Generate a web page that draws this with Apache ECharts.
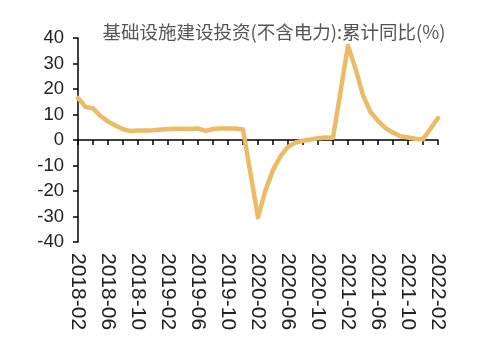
<!DOCTYPE html>
<html>
<head>
<meta charset="utf-8">
<script src="https://cdn.jsdelivr.net/npm/echarts@6/dist/echarts.min.js"></script>
<style>html,body{margin:0;padding:0;background:#fff}#c{width:479px;height:339px}</style>
</head>
<body>
<div id="c"></div>
<script>
const title = '基础设施建设投资(不含电力):累计同比(%)';
const months = [
 '2018-02','2018-03','2018-04','2018-05','2018-06','2018-07','2018-08','2018-09','2018-10','2018-11','2018-12',
 '2019-01','2019-02','2019-03','2019-04','2019-05','2019-06','2019-07','2019-08','2019-09','2019-10','2019-11','2019-12',
 '2020-01','2020-02','2020-03','2020-04','2020-05','2020-06','2020-07','2020-08','2020-09','2020-10','2020-11','2020-12',
 '2021-01','2021-02','2021-03','2021-04','2021-05','2021-06','2021-07','2021-08','2021-09','2021-10','2021-11','2021-12',
 '2022-01','2022-02'];
const values = [
 16.5,13.0,12.4,9.4,7.3,5.7,4.2,3.5,3.7,3.7,3.8,
 null,4.3,4.4,4.4,4.3,4.5,3.6,4.3,4.5,4.5,4.5,4.1,
 null,-30.3,-19.7,-11.8,-6.3,-2.7,-1.0,-0.3,0.2,0.7,1.0,0.9,
 null,37.0,28.0,17.5,11.0,7.5,4.6,2.9,1.5,1.0,0.5,0.3,
 null,8.6];
const yTicks = [-40,-30,-20,-10,0,10,20,30,40];

const chart = echarts.init(document.getElementById('c'));
chart.setOption({
  animation: false,
  title: {
    text: title, left: 269, top: 18, textAlign: 'center',
    textStyle: {fontFamily: 'Noto Sans CJK SC', fontSize: 18.5, fontWeight: 'normal', color: '#555'}
  },
  grid: {left: 78, right: 41, top: 38, bottom: 97},
  xAxis: [{
    type: 'category', data: months, boundaryGap: false, position: 'bottom',
    axisLine: {onZero: true, lineStyle: {color: '#000', width: 1.5}},
    axisTick: {show: true, interval: 1, length: 5, lineStyle: {color: '#000', width: 1.5}},
    axisLabel: {show: false}, splitLine: {show: false}
  }, {
    type: 'category', data: months, boundaryGap: false, position: 'bottom',
    axisLine: {show: false, onZero: false}, axisTick: {show: false},
    axisLabel: {interval: 3, rotate: -90, margin: 11, fontSize: 21, color: '#222', fontFamily: 'Liberation Sans'},
    splitLine: {show: false}
  }],
  yAxis: {
    type: 'value', min: yTicks[0], max: yTicks[yTicks.length-1], interval: 10,
    axisLine: {show: true, lineStyle: {color: '#000', width: 1.5}},
    axisTick: {show: true, length: 5, lineStyle: {color: '#000', width: 1.5}},
    axisLabel: {fontSize: 18.5, color: '#222', margin: 14, fontFamily: 'Liberation Sans'},
    splitLine: {show: false}
  },
  series: [{
    type: 'line', data: values, xAxisIndex: 0, connectNulls: true, showSymbol: false, symbol: 'none',
    lineStyle: {color: '#EDBA66', width: 4.5, join: 'round', cap: 'round'}
  }]
});
</script>
</body>
</html>
